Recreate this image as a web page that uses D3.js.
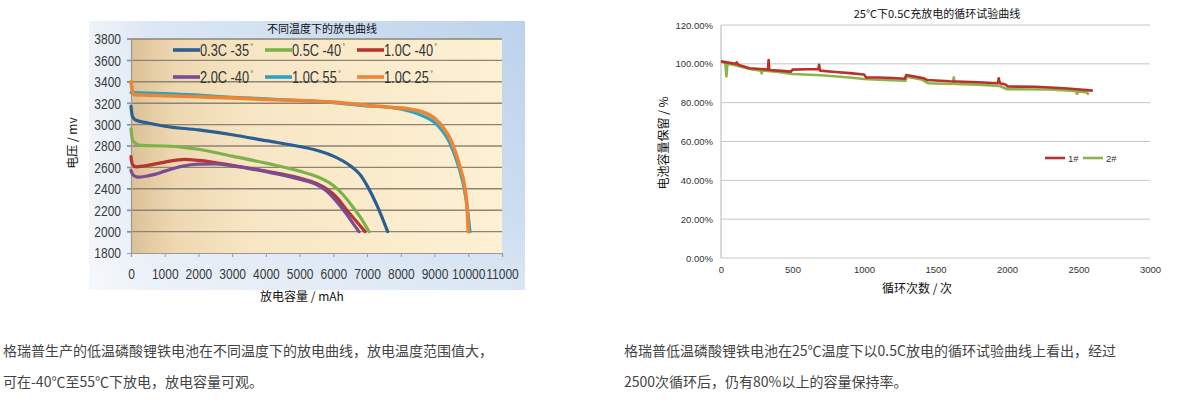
<!DOCTYPE html>
<html>
<head>
<meta charset="utf-8">
<script src="https://cdn.jsdelivr.net/npm/d3@7"></script>
<style>
  body { margin: 0; background: #fff; }
  svg { display: block; }
  .cjk { font-family: "Noto Sans CJK SC", "Noto Sans", sans-serif; }
  .num { font-family: "Liberation Sans", Arial, sans-serif; }
</style>
</head>
<body>
<div id="chart"></div>
<script>
// ---- left chart: discharge curves at different temperatures ----
var leftTitle = "不同温度下的放电曲线";
var leftYTicks = [1800, 2000, 2200, 2400, 2600, 2800, 3000, 3200, 3400, 3600, 3800];
var leftXTicks = [0, 1000, 2000, 3000, 4000, 5000, 6000, 7000, 8000, 9000, 10000, 11000];
var seriesNames = ["0.3C -35", "0.5C -40", "1.0C -40", "2.0C -40", "1.0C 55", "1.0C 25"];
var seriesColors = ["#2b5f91", "#7db24a", "#b8352d", "#7a4b96", "#2aa3c2", "#ec8535"];

// [mAh, mV]
var c03_m35 = [[0,3170],[40,3080],[150,3040],[500,3015],[1000,2985],[2000,2950],[3000,2905],[4000,2850],[5000,2795],[5500,2760],[6000,2705],[6500,2615],[6800,2530],[7000,2430],[7300,2240],[7610,2000]];
var c05_m40 = [[0,2960],[40,2860],[150,2820],[300,2805],[1000,2800],[1500,2790],[2000,2770],[3000,2705],[4000,2640],[5000,2565],[5500,2515],[6000,2430],[6300,2340],[6600,2220],[6850,2110],[7060,2000]];
var c10_m40 = [[0,2700],[40,2630],[150,2605],[400,2615],[1000,2650],[1600,2675],[2000,2665],[2500,2645],[3000,2620],[4000,2565],[5000,2500],[5500,2450],[5800,2400],[6100,2320],[6400,2200],[6700,2090],[6940,2000]];
var c20_m40 = [[0,2570],[60,2530],[200,2510],[400,2515],[700,2535],[1000,2565],[1500,2610],[2000,2630],[2500,2632],[3000,2615],[4000,2560],[5000,2490],[5500,2440],[5800,2380],[6100,2280],[6400,2160],[6620,2060],[6760,2000]];
var c10_p55 = [[0,3300],[100,3300],[500,3295],[1000,3290],[2000,3275],[3000,3255],[4000,3240],[5000,3225],[6000,3205],[7000,3175],[7800,3155],[8500,3100],[9100,2990],[9450,2830],[9720,2600],[9880,2400],[9980,2200],[10050,2000]];
var c10_p25 = [[0,3400],[30,3330],[100,3280],[500,3275],[1000,3270],[2000,3260],[3000,3250],[4000,3235],[5000,3225],[6000,3210],[7000,3180],[7780,3160],[8270,3145],[8600,3123],[9150,3014],[9500,2842],[9750,2608],[9900,2405],[9970,2203],[10000,2000]];
var leftSeries = [c03_m35, c05_m40, c10_m40, c20_m40, c10_p55, c10_p25];

// ---- right chart: cycle test at 25°C 0.5C ----
var rightTitle = "25°C下0.5C充放电的循环试验曲线";
var rightYTicks = [0, 0.2, 0.4, 0.6, 0.8, 1.0, 1.2];
var rightXTicks = [0, 500, 1000, 1500, 2000, 2500, 3000];
var cycleNames = ["1#", "2#"];
var cycleColors = ["#b8322b", "#8db44a"];

// [cycle, retention]
var cell1 = [[0,1.015],[20,1.01],[60,1.005],[100,1.0],[110,1.008],[120,0.995],[200,0.977],[300,0.972],[328,0.97],[333,1.02],[338,0.968],[400,0.965],[490,0.96],[500,0.97],[600,0.972],[680,0.972],[686,0.995],[692,0.965],[800,0.958],[900,0.952],[1000,0.945],[1015,0.93],[1100,0.93],[1200,0.927],[1285,0.923],[1295,0.942],[1420,0.925],[1440,0.917],[1600,0.91],[1800,0.905],[1935,0.9],[1942,0.925],[1950,0.9],[1990,0.893],[2005,0.883],[2200,0.882],[2400,0.874],[2600,0.862]];
var cell2 = [[0,1.011],[30,1.005],[38,0.935],[45,1.0],[100,0.993],[200,0.974],[280,0.965],[285,0.95],[290,0.966],[400,0.958],[500,0.948],[700,0.941],[900,0.93],[1000,0.922],[1100,0.918],[1290,0.913],[1300,0.934],[1400,0.92],[1450,0.9],[1620,0.896],[1628,0.93],[1636,0.896],[1800,0.893],[1950,0.886],[2000,0.869],[2300,0.868],[2480,0.86],[2490,0.845],[2500,0.858],[2560,0.852],[2565,0.845],[2570,0.852]];
var rightSeries = [cell1, cell2];

var para1 = ["格瑞普生产的低温磷酸锂铁电池在不同温度下的放电曲线，放电温度范围值大，", "可在-40℃至55℃下放电，放电容量可观。"];
var para2 = ["格瑞普低温磷酸锂铁电池在25℃温度下以0.5C放电的循环试验曲线上看出，经过", "2500次循环后，仍有80%以上的容量保持率。"];

var W = 1199, H = 418;
var svg = d3.select("#chart").append("svg").attr("width", W).attr("height", H);
var defs = svg.append("defs");

// frame + plot gradients
var fg = defs.append("linearGradient").attr("id", "frameGrad");
fg.append("stop").attr("offset", "0%").attr("stop-color", "#eef3f9");
fg.append("stop").attr("offset", "15%").attr("stop-color", "#dce7f4");
fg.append("stop").attr("offset", "100%").attr("stop-color", "#bcd2ec");
var fgv = defs.append("linearGradient").attr("id", "frameGradV").attr("x2", 0).attr("y2", 1);
fgv.append("stop").attr("offset", "0%").attr("stop-color", "#fff").attr("stop-opacity", 0);
fgv.append("stop").attr("offset", "75%").attr("stop-color", "#fff").attr("stop-opacity", 0.25);
fgv.append("stop").attr("offset", "100%").attr("stop-color", "#fff").attr("stop-opacity", 0.45);
var pg = defs.append("linearGradient").attr("id", "plotGrad");
pg.append("stop").attr("offset", "0%").attr("stop-color", "#dcc197");
pg.append("stop").attr("offset", "12%").attr("stop-color", "#eed8b2");
pg.append("stop").attr("offset", "35%").attr("stop-color", "#f8e7c6");
pg.append("stop").attr("offset", "100%").attr("stop-color", "#fdf0d3");

var narrow = 0.8; // horizontal squeeze for the condensed look of the left chart's numbers

// ===== left chart =====
var xL = d3.scaleLinear().domain([0, 11000]).range([131, 502]);
var yL = d3.scaleLinear().domain([1800, 3800]).range([253, 39]);

var gl = svg.append("g");
gl.append("rect").attr("x", 89).attr("y", 21).attr("width", 436).attr("height", 269).attr("fill", "url(#frameGrad)");
gl.append("rect").attr("x", 89).attr("y", 21).attr("width", 436).attr("height", 269).attr("fill", "url(#frameGradV)");
gl.append("rect").attr("x", xL(0)).attr("y", yL(3800))
  .attr("width", xL(11000) - xL(0)).attr("height", yL(1800) - yL(3800))
  .attr("fill", "url(#plotGrad)");

gl.selectAll("line.grid").data(leftYTicks.filter(function(d){ return d > 1800; }))
  .enter().append("line").attr("class", "grid")
  .attr("x1", xL(0) - 4).attr("x2", xL(11000))
  .attr("y1", function(d){ return yL(d); }).attr("y2", function(d){ return yL(d); })
  .attr("stroke", "#8d8470").attr("stroke-width", 1.4);

var yAxisL = d3.axisLeft(yL).tickValues(leftYTicks).tickSize(4).tickFormat(d3.format("d"));
var yg = gl.append("g").attr("transform", "translate(" + xL(0) + ",0)").call(yAxisL);
var xAxisL = d3.axisBottom(xL).tickValues(leftXTicks).tickSize(4).tickPadding(11).tickFormat(d3.format("d"));
var xg = gl.append("g").attr("transform", "translate(0," + yL(1800) + ")").call(xAxisL);
[yg, xg].forEach(function(g){
  g.select(".domain").attr("stroke", "#9a9a9a").attr("stroke-width", 1.2);
  g.selectAll(".tick line").attr("stroke", "#9a9a9a");
  g.selectAll(".tick text").attr("class", "num").attr("fill", "#3a3a3a")
    .style("font-size", "15px").attr("transform", "scale(" + narrow + ",1)");
});
yg.selectAll(".tick text").attr("x", -10 / narrow);

var lineL = d3.line().x(function(d){ return xL(d[0]); }).y(function(d){ return yL(d[1]); }).curve(d3.curveMonotoneX);
var drawOrder = [2, 3, 1, 0, 4, 5];
drawOrder.forEach(function(i){
  gl.append("path").datum(leftSeries[i]).attr("d", lineL)
    .attr("fill", "none").attr("stroke", seriesColors[i])
    .attr("stroke-width", i == 5 ? 3.6 : 3.2).attr("stroke-linecap", "round").attr("stroke-linejoin", "round");
});

// legend
var legX = [173, 265, 357], legY = [50, 77];
seriesNames.forEach(function(name, i){
  var lx = legX[i % 3], ly = legY[Math.floor(i / 3)];
  gl.append("line").attr("x1", lx).attr("x2", lx + 27).attr("y1", ly).attr("y2", ly)
    .attr("stroke", seriesColors[i]).attr("stroke-width", 3.6);
  var t = gl.append("text").attr("transform", "translate(" + (lx + 27) + "," + (ly + 5.5) + ") scale(" + narrow + ",1)")
    .attr("class", "num").attr("fill", "#333").style("font-size", "16px");
  t.append("tspan").text(name);
  t.append("tspan").attr("dx", 2).attr("dy", -7).style("font-size", "8px").text("°");
});

gl.append("text").attr("class", "cjk").attr("x", 322).attr("y", 33).attr("text-anchor", "middle")
  .style("font-size", "11px").attr("fill", "#111").text(leftTitle);
gl.append("text").attr("class", "cjk").attr("x", 302).attr("y", 301).attr("text-anchor", "middle")
  .style("font-size", "12px").attr("fill", "#111").text("放电容量 / mAh");
gl.append("text").attr("class", "cjk").attr("transform", "translate(77,143) rotate(-90)").attr("text-anchor", "middle")
  .style("font-size", "12px").attr("fill", "#111").text("电压 / mv");

// ===== right chart =====
var xR = d3.scaleLinear().domain([0, 3000]).range([721, 1150]);
var yR = d3.scaleLinear().domain([0, 1.2]).range([258, 25]);
var gr = svg.append("g");

gr.selectAll("line.grid").data(rightYTicks).enter().append("line").attr("class", "grid")
  .attr("x1", xR(0)).attr("x2", xR(3000))
  .attr("y1", function(d){ return yR(d); }).attr("y2", function(d){ return yR(d); })
  .attr("stroke", "#c6c6c6").attr("stroke-width", 1);
gr.append("line").attr("x1", xR(0)).attr("x2", xR(0)).attr("y1", yR(1.2)).attr("y2", yR(0))
  .attr("stroke", "#b5b5b5").attr("stroke-width", 1);

var yAxisR = d3.axisLeft(yR).tickValues(rightYTicks).tickSize(0).tickPadding(8).tickFormat(d3.format(".2%"));
var ygr = gr.append("g").attr("transform", "translate(" + xR(0) + ",0)").call(yAxisR);
var xAxisR = d3.axisBottom(xR).tickValues(rightXTicks).tickSize(0).tickPadding(8).tickFormat(d3.format("d"));
var xgr = gr.append("g").attr("transform", "translate(0," + yR(0) + ")").call(xAxisR);
[ygr, xgr].forEach(function(g){
  g.select(".domain").remove();
  g.selectAll(".tick text").attr("fill", "#333")
    .style("font-size", "9.5px").style("font-family", "'Liberation Sans', Arial, sans-serif");
});

var lineR = d3.line().x(function(d){ return xR(d[0]); }).y(function(d){ return yR(d[1]); });
[1, 0].forEach(function(i){
  gr.append("path").datum(rightSeries[i]).attr("d", lineR)
    .attr("fill", "none").attr("stroke", cycleColors[i]).attr("stroke-width", 2.6)
    .attr("stroke-linejoin", "round");
});

var rlegX = [1045, 1083];
cycleNames.forEach(function(name, i){
  gr.append("line").attr("x1", rlegX[i]).attr("x2", rlegX[i] + 20).attr("y1", 158).attr("y2", 158)
    .attr("stroke", cycleColors[i]).attr("stroke-width", 2.6);
  gr.append("text").attr("x", rlegX[i] + 23).attr("y", 161.5).attr("fill", "#333")
    .style("font-size", "9.5px").style("font-family", "'Liberation Sans', Arial, sans-serif").text(name);
});

gr.append("text").attr("class", "cjk").attr("x", 937).attr("y", 18).attr("text-anchor", "middle")
  .style("font-size", "11px").attr("fill", "#111").text(rightTitle);
gr.append("text").attr("class", "cjk").attr("x", 917).attr("y", 293).attr("text-anchor", "middle")
  .style("font-size", "12px").attr("fill", "#111").text("循环次数 / 次");
gr.append("text").attr("class", "cjk").attr("transform", "translate(668,143) rotate(-90)").attr("text-anchor", "middle")
  .style("font-size", "12px").attr("fill", "#111").text("电池容量保留 / %");

// ===== paragraphs =====
function para(lines, x){
  lines.forEach(function(s, i){
    svg.append("text").attr("class", "cjk").attr("x", x).attr("y", 356 + i * 31)
      .style("font-size", "14px").attr("fill", "#444").text(s);
  });
}
para(para1, 3);
para(para2, 624);
</script>
</body>
</html>
